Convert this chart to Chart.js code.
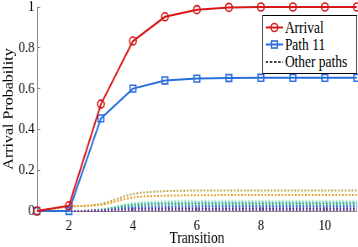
<!DOCTYPE html>
<html><head><meta charset="utf-8">
<script src="https://cdn.jsdelivr.net/npm/chart.js@4/dist/chart.umd.min.js"></script>
<style>
html,body{margin:0;padding:0;background:#fff;overflow:hidden;width:358px;height:247px;}
#wrap{position:absolute;left:0;top:0;width:426px;height:247px;transform:scaleX(0.8404);transform-origin:0 0;}
#c{position:absolute;left:0;top:0;width:426px;height:247px;}
#legend{position:absolute;left:312px;top:15px;width:111px;height:57px;border:1px solid #000;background:#fff;font-family:"Liberation Serif";font-size:16px;color:#000;}
.row{position:absolute;left:0;width:111px;height:17px;line-height:17px;white-space:nowrap;}
.row svg{position:absolute;left:3px;top:0;}
.row span{position:absolute;left:26px;top:0;}
</style></head>
<body>
<div id="wrap">
<canvas id="c" width="426" height="247"></canvas>
<div id="legend">
  <div class="row" style="top:2.5px"><svg width="21" height="17"><line x1="0" y1="8.5" x2="21" y2="8.5" stroke="#d81818" stroke-width="2"/><circle cx="10.5" cy="8.5" r="4" fill="none" stroke="#d81818" stroke-width="1.6"/></svg><span>Arrival</span></div>
  <div class="row" style="top:19.5px"><svg width="21" height="17"><line x1="0" y1="8.5" x2="21" y2="8.5" stroke="#2a6fdb" stroke-width="2"/><rect x="7" y="5" width="7" height="7" fill="none" stroke="#2a6fdb" stroke-width="1.6"/></svg><span>Path 11</span></div>
  <div class="row" style="top:36.5px"><svg width="21" height="17"><line x1="0" y1="9" x2="21" y2="9" stroke="#000" stroke-width="1.3" stroke-dasharray="3,2"/></svg><span>Other paths</span></div>
</div>
</div>
<script>
const transitions = [1, 2, 3, 4, 5, 6, 7, 8, 9, 10, 11];
const arrival = [0, 0.026, 0.524, 0.833, 0.952, 0.987, 0.998, 1, 1, 1, 1];
const path11 = [0, 0, 0.454, 0.6, 0.64, 0.649, 0.652, 0.653, 0.653, 0.653, 0.653];
const otherOlive = [0, 0.02, 0.035, 0.083, 0.097, 0.1, 0.1, 0.1, 0.1, 0.1, 0.1];
const otherGold = [0, 0.022, 0.03, 0.066, 0.075, 0.077, 0.078, 0.078, 0.078, 0.078, 0.078];
const otherLightGreen = [0, 0, 0.008, 0.04, 0.048, 0.05, 0.05, 0.05, 0.05, 0.05, 0.05];
const otherTeal = [0, 0, 0.006, 0.033, 0.04, 0.042, 0.042, 0.042, 0.042, 0.042, 0.042];
const otherGreen = [0, 0, 0.005, 0.027, 0.033, 0.035, 0.035, 0.035, 0.035, 0.035, 0.035];
const otherBlue = [0, 0, 0.003, 0.018, 0.022, 0.024, 0.024, 0.024, 0.024, 0.024, 0.024];
const otherNavy = [0, 0, 0.002, 0.01, 0.013, 0.014, 0.014, 0.014, 0.014, 0.014, 0.014];
const otherPurple = [0, 0, 0.001, 0.004, 0.005, 0.005, 0.005, 0.005, 0.005, 0.005, 0.005];
const xTicks = [2, 4, 6, 8, 10];
const yTicks = [0, 0.2, 0.4, 0.6, 0.8, 1];

const FONT = '"Liberation Serif", "Times New Roman", serif';
const pts = arr => transitions.map((x, i) => ({x: x, y: arr[i]}));
const other = (arr, color) => ({
  data: pts(arr), borderColor: color, borderWidth: 2, borderDash: [2, 2],
  pointRadius: 0, cubicInterpolationMode: 'monotone', clip: false
});

new Chart(document.getElementById('c'), {
  type: 'line',
  data: {
    datasets: [
      {label: 'Arrival', data: pts(arrival), borderColor: '#d81818', borderWidth: 2,
       pointStyle: 'circle', pointRadius: 4, pointBorderWidth: 1.6,
       pointBackgroundColor: 'rgba(0,0,0,0)', pointBorderColor: '#d81818', clip: false},
      {label: 'Path 11', data: pts(path11), borderColor: '#2a6fdb', borderWidth: 2,
       pointStyle: 'rect', pointRadius: 4.8, pointBorderWidth: 1.6,
       pointBackgroundColor: 'rgba(0,0,0,0)', pointBorderColor: '#2a6fdb', clip: false},
      other(otherPurple, '#7a3e9d'),
      other(otherNavy, '#3a3aa0'),
      other(otherBlue, '#2a6fdb'),
      other(otherGreen, '#3aa070'),
      other(otherTeal, '#3cc0c0'),
      other(otherLightGreen, '#b4ecc4'),
      other(otherGold, '#e0a028'),
      other(otherOlive, '#b8a448')
    ]
  },
  options: {
    responsive: false, animation: false, devicePixelRatio: 1,
    layout: {autoPadding: false, padding: {top: 7, right: 1.4, bottom: 0, left: 0}},
    plugins: {legend: {display: false}, tooltip: {enabled: false}},
    elements: {line: {tension: 0}},
    scales: {
      x: {
        type: 'linear', min: 1, max: 11,
        afterBuildTicks: s => { s.ticks = xTicks.map(v => ({value: v})); },
        afterFit: s => { s.height = 36; s.paddingLeft = 0; s.paddingRight = 0; },
        ticks: {font: {family: FONT, size: 15}, color: '#000', padding: 10, maxRotation: 0, autoSkip: false,
                callback: v => String(v)},
        grid: {display: true, drawOnChartArea: false, drawTicks: true, tickLength: -4, color: '#888'},
        border: {display: true, color: '#888', width: 1},
        title: {display: true, text: 'Transition', color: '#000',
                font: {family: FONT, size: 16, lineHeight: 1}, padding: {top: 0, bottom: 0}}
      },
      y: {
        type: 'linear', min: 0, max: 1,
        afterBuildTicks: s => { s.ticks = yTicks.map(v => ({value: v})); },
        afterFit: s => { s.width = 44; s.paddingTop = 0; s.paddingBottom = 0; },
        ticks: {font: {family: FONT, size: 15}, color: '#000', padding: 7,
                callback: v => String(Math.round(v * 10) / 10)},
        grid: {display: true, drawOnChartArea: false, drawTicks: true, tickLength: -4, color: '#888'},
        border: {display: true, color: '#888', width: 1},
        title: {display: true, text: 'Arrival Probability', color: '#000',
                font: {family: FONT, size: 16, lineHeight: 1.2}, padding: {top: 1, bottom: 0}}
      }
    }
  }
});
</script>
</body></html>
